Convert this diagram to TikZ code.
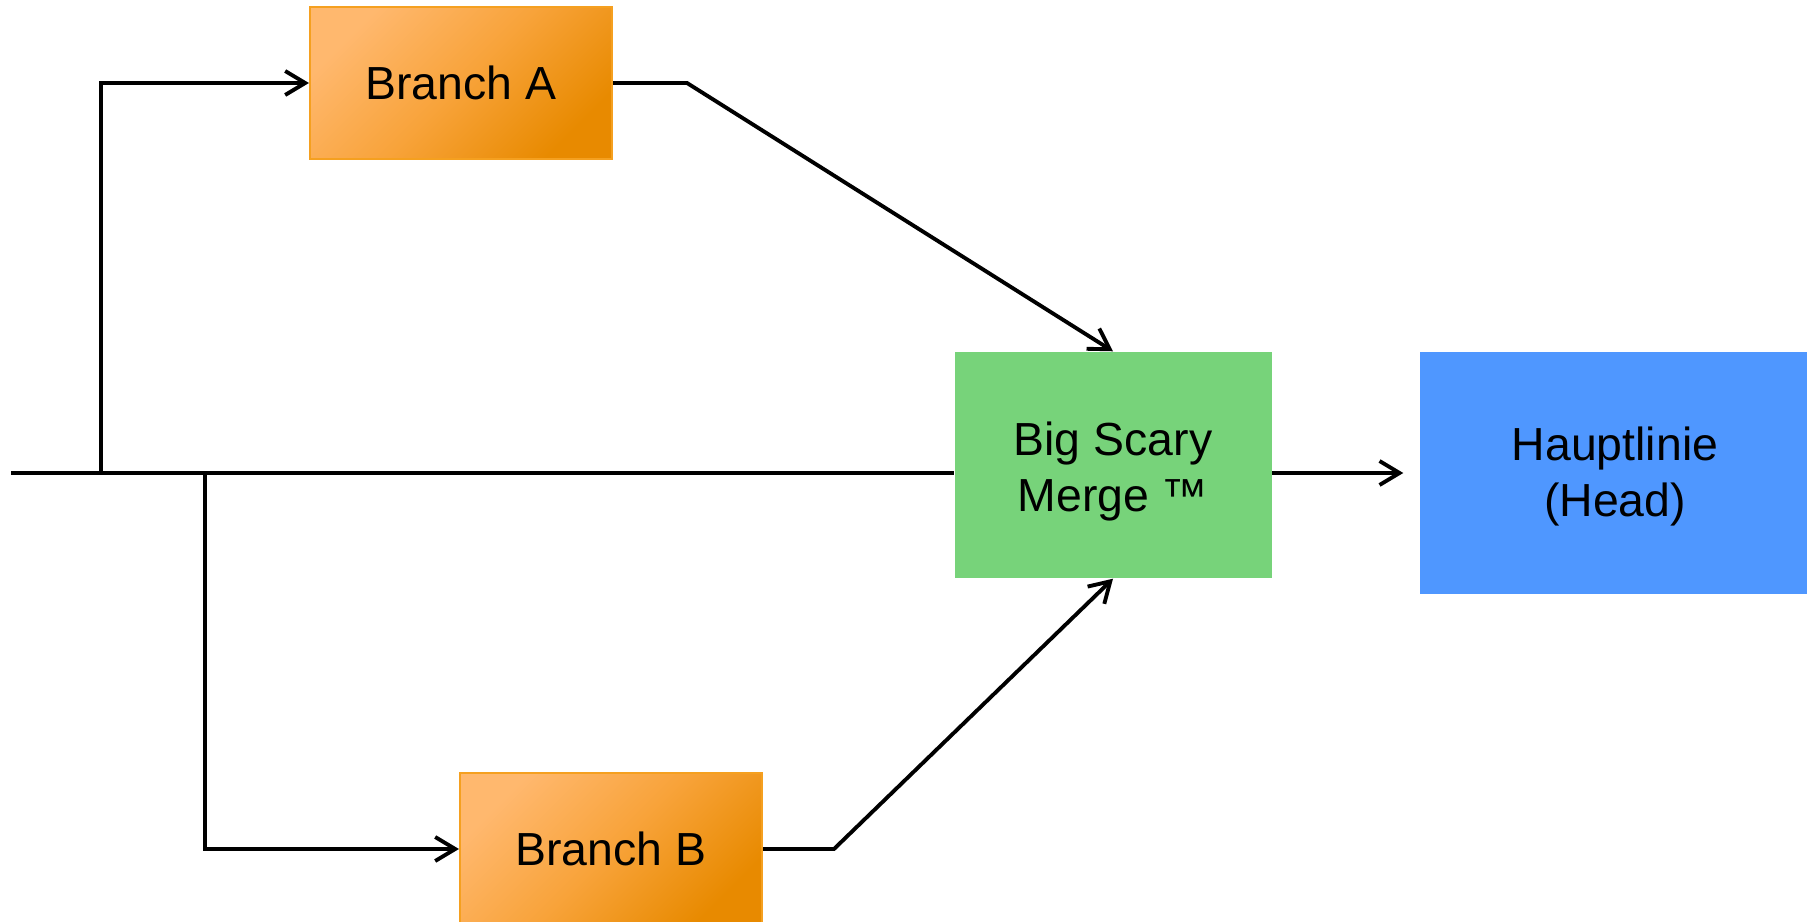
\documentclass[tikz,border=0pt]{standalone}
\usepackage{fontspec}
\setmainfont{Liberation Sans}
\usepackage{tikz}
\usetikzlibrary{arrows.meta,positioning}

\definecolor{branchlight}{HTML}{FFB86E}
\definecolor{branchmid}{HTML}{F8A33A}
\definecolor{branchdark}{HTML}{E88A00}
\definecolor{branchline}{HTML}{F5A020}
\definecolor{mergegreen}{HTML}{77D37A}
\definecolor{headblue}{HTML}{4F97FF}

\tikzset{
	box/.style={rectangle, align=center, inner sep=0pt, font=\fontsize{13.2}{16.2}\selectfont},
	branchbox/.style={box, draw=branchline, line width=0.6pt, top color=branchlight, bottom color=branchdark, middle color=branchmid, shading angle=45, minimum width=3.02cm, minimum height=1.52cm},
	mergebox/.style={box, fill=mergegreen, text height=1.0cm, text depth=0.06cm, minimum width=3.17cm, minimum height=2.26cm},
	headbox/.style={box, fill=headblue, text height=0.95cm, text depth=0.07cm, minimum width=3.9cm, minimum height=2.42cm},
	flow/.style={line width=1.1pt, -{Straight Barb[length=2mm,width=2.4mm]}},
	line/.style={line width=1.1pt}
}

\begin{document}
\begin{tikzpicture}
		\useasboundingbox (0,0) rectangle (18.07,-9.22);
		\clip (0,0) rectangle (18.07,-9.22);
		% boxes
		\node[branchbox] (branchA) at (4.61,-0.83) {Branch A};
		\node[branchbox] (branchB) at (6.11,-8.49) {Branch B};
		\node[mergebox] (merge) at (11.13,-4.65) {Big Scary\\Merge \texttrademark};
		\node[headbox] (head) at (16.15,-4.73) {Hauptlinie\\(Head)};
		% points on the lines
		\coordinate (in) at (0.11,-4.73);
		\coordinate (splitA) at (1.01,-4.73);
		\coordinate (splitB) at (2.05,-4.73);
		\coordinate (bendA) at (6.87,-0.83);
		\coordinate (bendB) at (8.34,-8.49);
		% lines
		\draw[line] (in) -- (in -| merge.west);
		\draw[flow] (splitA) |- (branchA.west);
		\draw[flow] (splitB) |- (branchB.west);
		\draw[flow] (branchA.east) -- (bendA) -- (merge.north);
		\draw[flow] (branchB.east) -- (bendB) -- (merge.south);
		\draw[flow] (merge.east |- in) -- ([xshift=-0.16cm]head.west);
	\end{tikzpicture}
\end{document}
